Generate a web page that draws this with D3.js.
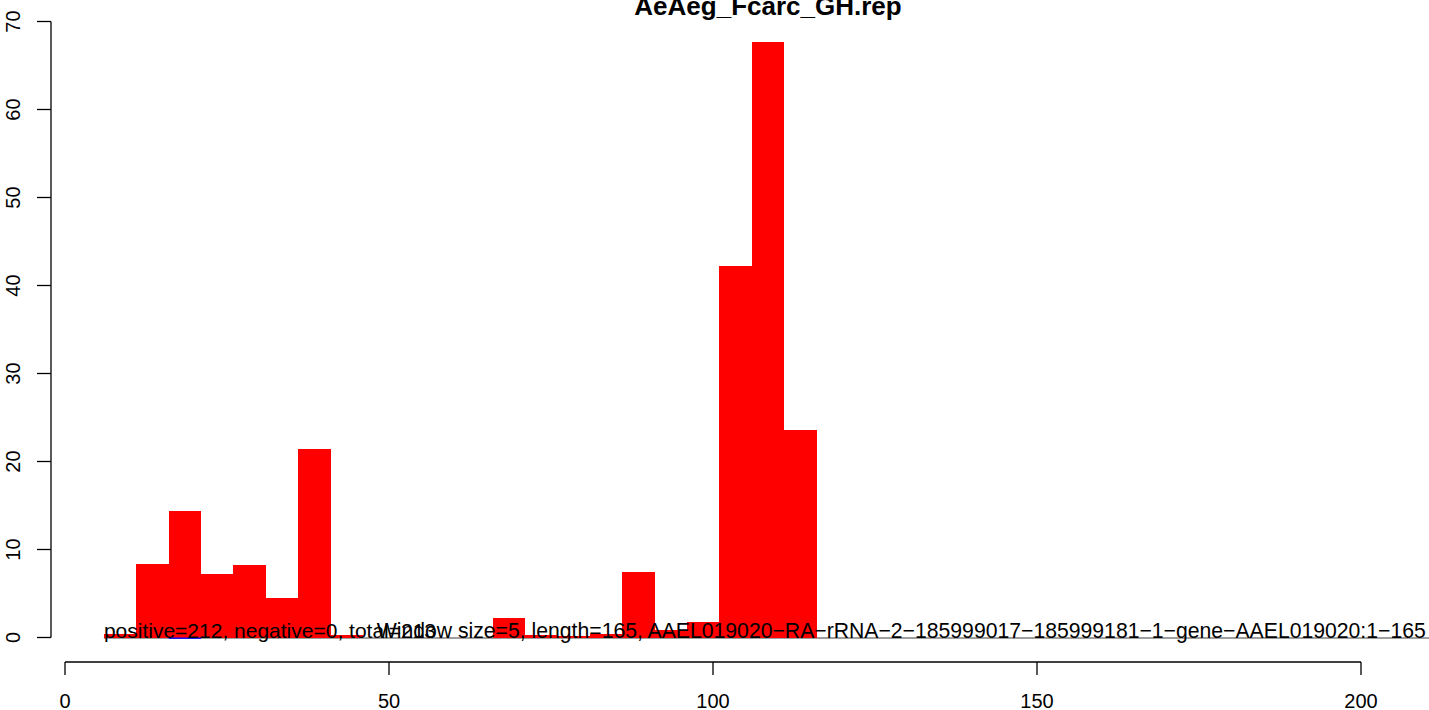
<!DOCTYPE html>
<html>
<head>
<meta charset="utf-8">
<script src="https://cdn.jsdelivr.net/npm/d3@7"></script>
<style>
  html, body { margin: 0; padding: 0; background: #fff; overflow: hidden; }
  text { font-family: "Liberation Sans", Arial, Helvetica, sans-serif; }
</style>
</head>
<body>
<svg id="chart" width="1429" height="710"></svg>
<script>
// Window starts (window size 5)
const windowStarts = [6, 11, 16, 21, 26, 31, 36, 41, 66, 71, 76, 81, 86, 91, 96, 101, 106, 111];
const positiveValues = [0.4, 8.4, 14.4, 7.2, 8.2, 4.5, 21.4, 0.25, 2.2, 0.3, 0.2, 0.45, 7.4, 0.9, 1.8, 42.2, 67.7, 23.6];
const negativeStarts = [16];
const negativeValues = [-0.15];
const windowSize = 5;
const xTicks = [0, 50, 100, 150, 200];
const yTicks = [0, 10, 20, 30, 40, 50, 60, 70];
const titleText = "AeAeg_Fcarc_GH.rep";
const summaryText = "positive=212, negative=0, total=213";
const infoText = "Window size=5, length=165, AAEL019020\u2212RA\u2212rRNA\u22122\u2212185999017\u2212185999181\u22121\u2212gene\u2212AAEL019020:1\u2212165";
const summaryX = 6;
const infoX = 48.1;

const svg = d3.select("#chart");
const W = 1429, H = 710;

const x = d3.scaleLinear().domain([0, 200]).range([65, 1361]);
const y = d3.scaleLinear().domain([0, 70]).range([637.5, 21.5]);

// baseline gray line
svg.append("line")
  .attr("x1", x(6)).attr("x2", W)
  .attr("y1", y(0) + 0.5).attr("y2", y(0) + 0.5)
  .attr("stroke", "#7f7f7f").attr("stroke-width", 1.3);

// positive bars
svg.selectAll("rect.pos")
  .data(windowStarts.map((s, i) => ({s, v: positiveValues[i]})))
  .join("rect")
  .attr("class", "pos")
  .attr("x", d => x(d.s))
  .attr("width", d => x(d.s + windowSize) - x(d.s))
  .attr("y", d => y(d.v))
  .attr("height", d => y(0) - y(d.v))
  .attr("fill", "#ff0000")
  .attr("shape-rendering", "crispEdges");

// negative bars
svg.selectAll("rect.neg")
  .data(negativeStarts.map((s, i) => ({s, v: negativeValues[i]})))
  .join("rect")
  .attr("class", "neg")
  .attr("x", d => x(d.s))
  .attr("width", d => x(d.s + windowSize) - x(d.s))
  .attr("y", y(0))
  .attr("height", d => Math.max(1.3, y(d.v) - y(0)))
  .attr("fill", "#0000ff");

// texts at baseline
svg.append("text")
  .attr("x", x(summaryX)).attr("y", y(0) + 0.5)
  .attr("font-size", 21).attr("fill", "#000")
  .text(summaryText);
svg.append("text")
  .attr("x", x(infoX)).attr("y", y(0) + 0.5)
  .attr("font-size", 21.2).attr("fill", "#000")
  .text(infoText);

// x axis
const xAxisG = svg.append("g").attr("transform", "translate(0,662)");
xAxisG.append("line").attr("x1", x(0)).attr("x2", x(200)).attr("y1", 0).attr("y2", 0)
  .attr("stroke", "#000").attr("stroke-width", 1.3);
xAxisG.selectAll("line.tick").data(xTicks).join("line").attr("class", "tick")
  .attr("x1", d => x(d)).attr("x2", d => x(d)).attr("y1", 0).attr("y2", 13)
  .attr("stroke", "#000").attr("stroke-width", 1.3);
xAxisG.selectAll("text").data(xTicks).join("text")
  .attr("x", d => x(d)).attr("y", 45.5)
  .attr("text-anchor", "middle").attr("font-size", 20)
  .text(d => d);

// y axis
const yAxisG = svg.append("g").attr("transform", "translate(51,0)");
yAxisG.append("line").attr("x1", 0).attr("x2", 0).attr("y1", y(0)).attr("y2", y(70))
  .attr("stroke", "#000").attr("stroke-width", 1.3);
yAxisG.selectAll("line.tick").data(yTicks).join("line").attr("class", "tick")
  .attr("x1", -14).attr("x2", 0).attr("y1", d => y(d)).attr("y2", d => y(d))
  .attr("stroke", "#000").attr("stroke-width", 1.3);
yAxisG.selectAll("text").data(yTicks).join("text")
  .attr("transform", d => `translate(-31,${y(d)}) rotate(-90)`)
  .attr("text-anchor", "middle").attr("font-size", 20)
  .text(d => d);

// title
svg.append("text")
  .attr("x", 768).attr("y", 15)
  .attr("text-anchor", "middle").attr("font-size", 26).attr("font-weight", "bold")
  .text(titleText);
</script>
</body>
</html>
